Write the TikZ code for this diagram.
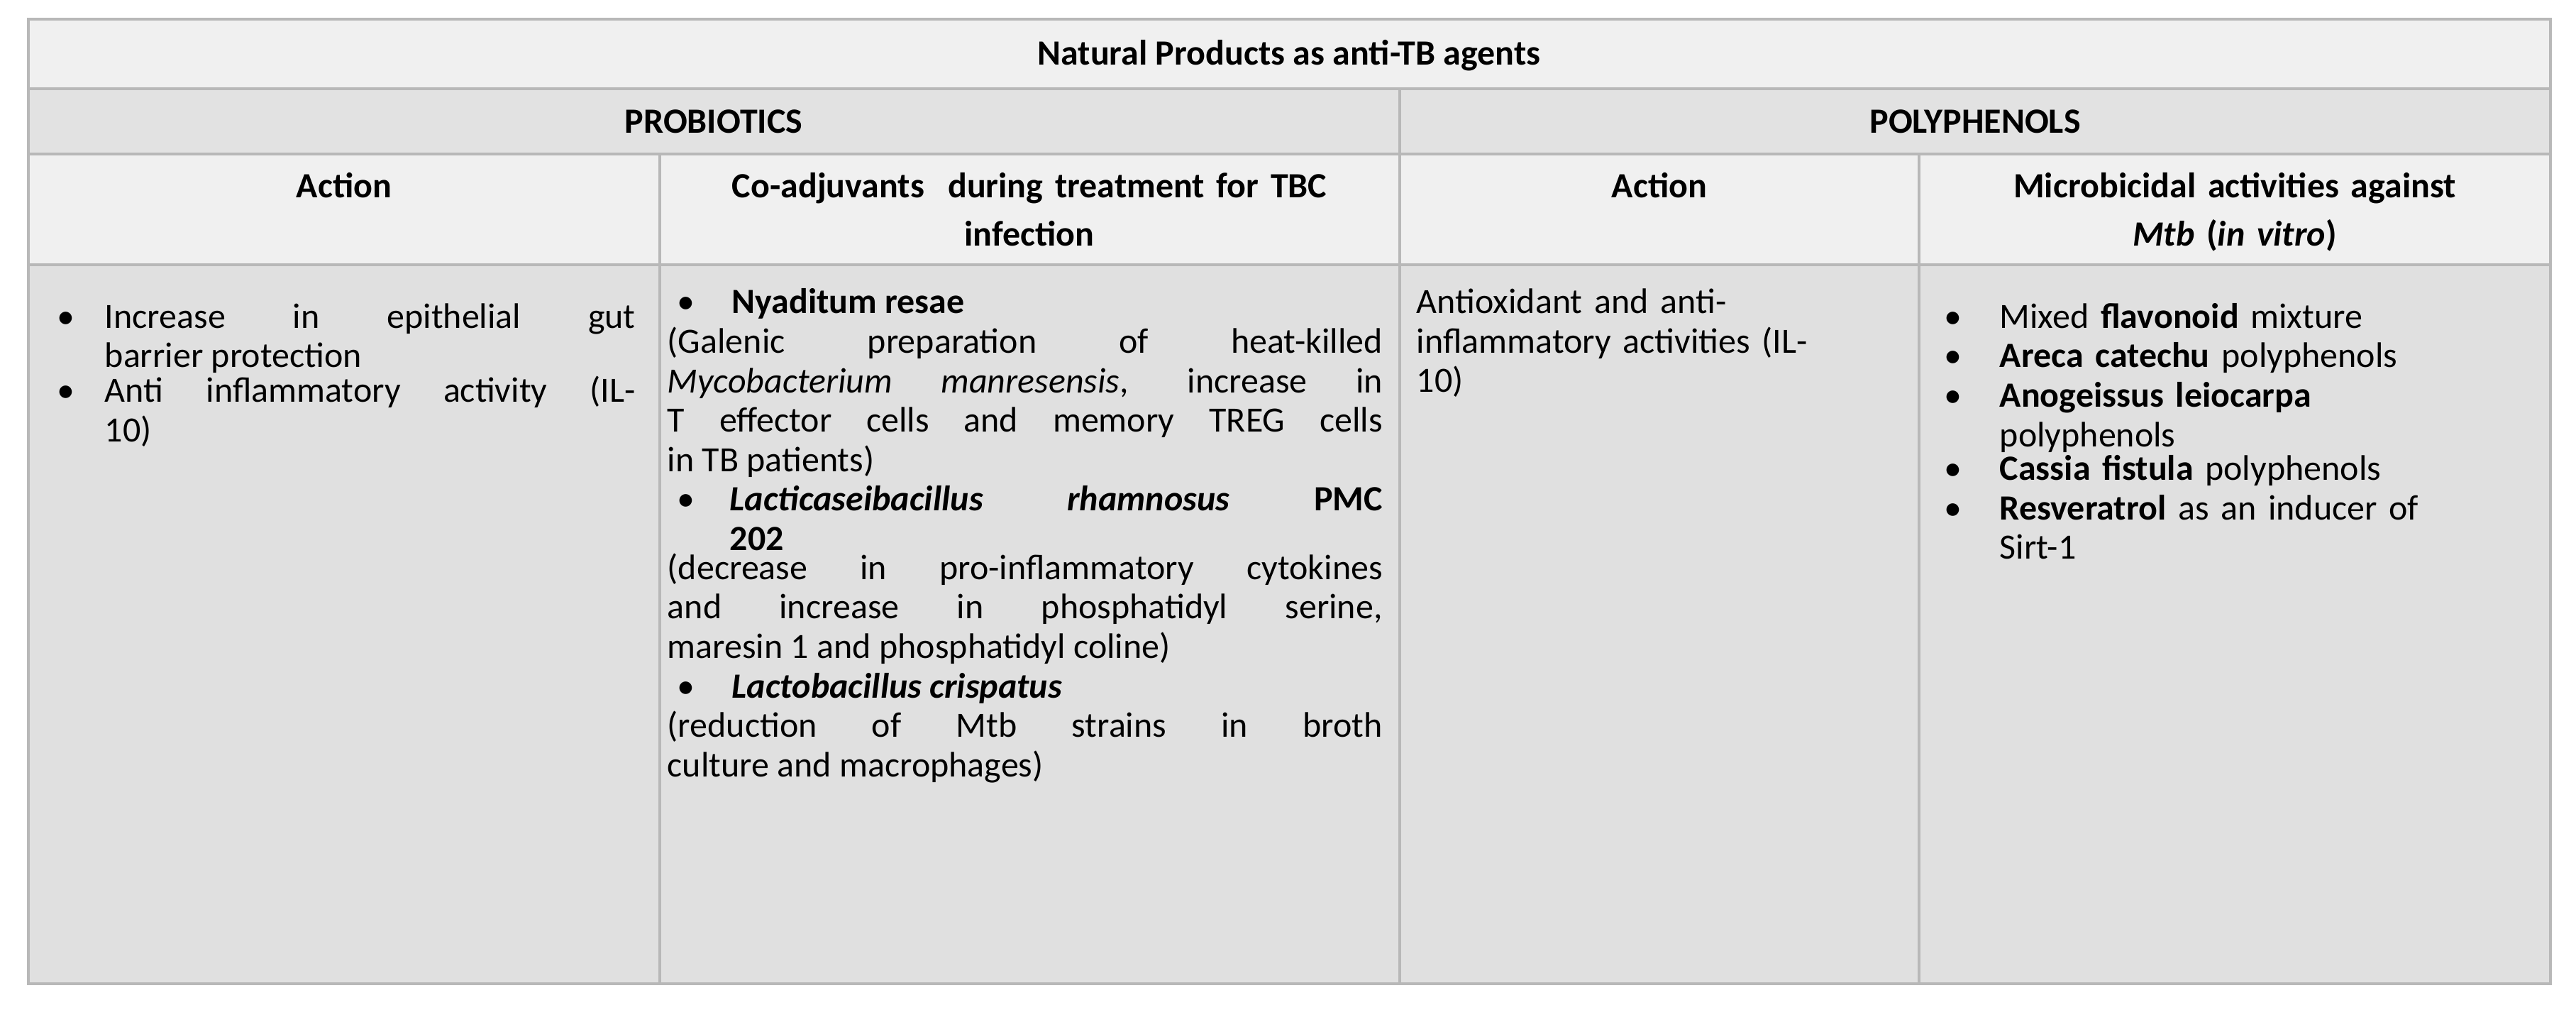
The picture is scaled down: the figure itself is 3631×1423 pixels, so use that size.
\documentclass[tikz,border=0pt]{standalone}
\usepackage{fontspec}
\setmainfont{Carlito}
\definecolor{bgA}{HTML}{F0F0F0}
\definecolor{bgB}{HTML}{E2E2E2}
\definecolor{bgC}{HTML}{E0E0E0}
\definecolor{rule}{HTML}{B8B8B8}
\newcommand{\bitem}[4]{\par\noindent\makebox[#1][l]{\hspace*{#2}\textbullet}\parbox[t]{#3}{#4}\par}
\begin{document}
\begin{tikzpicture}[x=0.25pt,y=-0.25pt,
  hdr/.style={font=\bfseries\fontsize{12.5}{17}\selectfont,inner sep=0pt,align=center},
  cell/.style={font=\fontsize{12.5}{13.9}\selectfont,inner sep=0pt,anchor=north west},
  grid/.style={draw=rule,line width=1pt}]
\useasboundingbox (0,0) rectangle (3631,1423);
\fill[bgA] (40,27) rectangle (3595,125);
\fill[bgB] (40,125) rectangle (3595,217);
\fill[bgA] (40,217) rectangle (3595,373);
\fill[bgC] (40,373) rectangle (3595,1386);
\draw[grid] (40,27) rectangle (3595,1386);
\draw[grid] (40,125) -- (3595,125);
\draw[grid] (40,217) -- (3595,217);
\draw[grid] (40,373) -- (3595,373);
\draw[grid] (1973,125) -- (1973,1386);
\draw[grid] (930,217) -- (930,1386);
\draw[grid] (2705,217) -- (2705,1386);
\node[hdr] (title) at (1817,78) {Natural Products as anti-TB agents};
\node[hdr] (probio) at (1006,171) {PROBIOTICS};
\node[hdr] (poly) at (2784,171) {POLYPHENOLS};
\node[hdr,anchor=north] (h1) at (485,243) {Action};
\node[hdr,anchor=north,text width=250pt] (h2) at (1451,243) {Co-adjuvants\ \ during treatment for TBC\\infection};
\node[hdr,anchor=north] (h3) at (2339,243) {Action};
\node[hdr,anchor=north,text width=200pt] (h4) at (3150,243) {Microbicidal activities against\\\textit{Mtb} (\textit{in vitro})};
\node[cell,text width=208pt,align=justify] (c1) at (80,406) {%
\bitem{16.75pt}{0pt}{187pt}{Increase in epithelial gut\linebreak barrier protection}%
\bitem{16.75pt}{0pt}{187pt}{Anti inflammatory activity (IL-\linebreak 10)}};
\node[cell,text width=252pt,align=justify] (c2) at (940,406) {%
\noindent\hspace*{3.5pt}\textbullet\hspace{13pt}\textbf{Nyaditum resae}\par
\noindent(Galenic preparation of heat-killed\linebreak \textit{Mycobacterium manresensis}, increase in\linebreak T effector cells and memory TREG cells\linebreak in TB patients)\par
\bitem{22pt}{3.5pt}{230pt}{\textbf{\textit{Lacticaseibacillus rhamnosus}} \textbf{PMC}\linebreak \textbf{202}}%
\noindent(decrease in pro-inflammatory cytokines\linebreak and increase in phosphatidyl serine,\linebreak maresin 1 and phosphatidyl coline)\par
\noindent\hspace*{3.5pt}\textbullet\hspace{13pt}\textbf{\textit{Lactobacillus crispatus}}\par
\noindent(reduction of Mtb strains in broth\linebreak culture and macrophages)\par};
\node[cell,text width=172pt,align=left] (c3) at (1996,406) {Antioxidant and anti-\\inflammatory activities (IL-\\10)};
\node[cell,text width=210pt,align=left] (c4) at (2740,406) {%
\bitem{19.5pt}{0pt}{190pt}{Mixed \textbf{flavonoid} mixture}%
\bitem{19.5pt}{0pt}{190pt}{\textbf{Areca catechu} polyphenols}%
\bitem{19.5pt}{0pt}{190pt}{\textbf{Anogeissus leiocarpa}\newline polyphenols}%
\bitem{19.5pt}{0pt}{190pt}{\textbf{Cassia fistula} polyphenols}%
\bitem{19.5pt}{0pt}{190pt}{\textbf{Resveratrol} as an inducer of\newline Sirt-1}};
\end{tikzpicture}
\end{document}
